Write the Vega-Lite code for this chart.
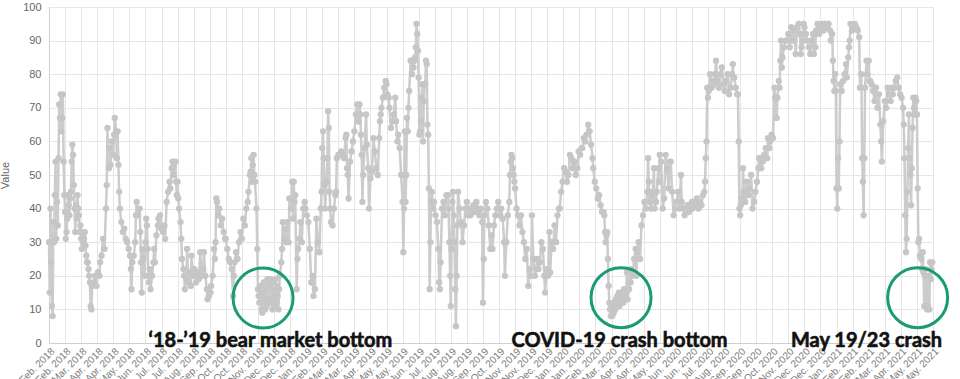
{
"$schema":"https://vega.github.io/schema/vega-lite/v6.json",
"width":884,"height":336,
"autosize":{"type":"none"},
"padding":{"left":49,"top":7,"right":27,"bottom":36},
"background":"white",
"config":{"view":{"stroke":null},"font":"Liberation Sans"},
"datasets":{
"fg":[
{"d":"2018-02-01","v":30},{"d":"2018-02-02","v":15},{"d":"2018-02-03","v":40},{"d":"2018-02-04","v":24},{"d":"2018-02-05","v":11},{"d":"2018-02-06","v":8},{"d":"2018-02-07","v":36},{"d":"2018-02-08","v":30},{"d":"2018-02-09","v":44},{"d":"2018-02-10","v":54},{"d":"2018-02-11","v":31},{"d":"2018-02-12","v":42},{"d":"2018-02-13","v":35},{"d":"2018-02-14","v":55},{"d":"2018-02-15","v":71},{"d":"2018-02-16","v":67},{"d":"2018-02-17","v":74},{"d":"2018-02-18","v":63},{"d":"2018-02-19","v":67},{"d":"2018-02-20","v":74},{"d":"2018-02-21","v":54},{"d":"2018-02-22","v":44},{"d":"2018-02-23","v":39},{"d":"2018-02-24","v":31},{"d":"2018-02-25","v":33},{"d":"2018-02-26","v":37},{"d":"2018-02-27","v":44},{"d":"2018-02-28","v":41},
{"d":"2018-03-01","v":38},{"d":"2018-03-02","v":43},{"d":"2018-03-03","v":45},{"d":"2018-03-04","v":54},{"d":"2018-03-05","v":59},{"d":"2018-03-06","v":56},{"d":"2018-03-07","v":47},{"d":"2018-03-08","v":40},{"d":"2018-03-09","v":33},{"d":"2018-03-10","v":41},{"d":"2018-03-11","v":37},{"d":"2018-03-12","v":44},{"d":"2018-03-13","v":40},{"d":"2018-03-14","v":38},{"d":"2018-03-15","v":33},{"d":"2018-03-16","v":35},{"d":"2018-03-17","v":31},{"d":"2018-03-18","v":28},{"d":"2018-03-19","v":33},{"d":"2018-03-20","v":30},{"d":"2018-03-21","v":31},{"d":"2018-03-22","v":33},{"d":"2018-03-23","v":29},{"d":"2018-03-24","v":26},{"d":"2018-03-25","v":24},{"d":"2018-03-26","v":24},{"d":"2018-03-27","v":22},{"d":"2018-03-28","v":20},{"d":"2018-03-29","v":18},{"d":"2018-03-30","v":11},{"d":"2018-03-31","v":10},
{"d":"2018-04-01","v":17},{"d":"2018-04-03","v":18},{"d":"2018-04-05","v":20},{"d":"2018-04-07","v":17},{"d":"2018-04-09","v":21},{"d":"2018-04-11","v":20},{"d":"2018-04-12","v":24},{"d":"2018-04-14","v":26},{"d":"2018-04-16","v":31},{"d":"2018-04-18","v":28},{"d":"2018-04-20","v":40},{"d":"2018-04-21","v":47},{"d":"2018-04-22","v":64},{"d":"2018-04-24","v":52},{"d":"2018-04-25","v":58},{"d":"2018-04-26","v":53},{"d":"2018-04-28","v":60},{"d":"2018-04-30","v":56},
{"d":"2018-05-01","v":62},{"d":"2018-05-02","v":67},{"d":"2018-05-04","v":63},{"d":"2018-05-05","v":55},{"d":"2018-05-06","v":63},{"d":"2018-05-07","v":53},{"d":"2018-05-08","v":45},{"d":"2018-05-09","v":40},{"d":"2018-05-11","v":36},{"d":"2018-05-13","v":33},{"d":"2018-05-15","v":34},{"d":"2018-05-17","v":31},{"d":"2018-05-19","v":30},{"d":"2018-05-21","v":28},{"d":"2018-05-23","v":26},{"d":"2018-05-24","v":22},{"d":"2018-05-25","v":16},{"d":"2018-05-26","v":24},{"d":"2018-05-28","v":26},{"d":"2018-05-30","v":30},{"d":"2018-05-31","v":38},
{"d":"2018-06-01","v":42},{"d":"2018-06-03","v":38},{"d":"2018-06-05","v":40},{"d":"2018-06-06","v":33},{"d":"2018-06-07","v":24},{"d":"2018-06-08","v":15},{"d":"2018-06-09","v":28},{"d":"2018-06-10","v":25},{"d":"2018-06-12","v":20},{"d":"2018-06-13","v":30},{"d":"2018-06-14","v":37},{"d":"2018-06-15","v":35},{"d":"2018-06-16","v":28},{"d":"2018-06-17","v":20},{"d":"2018-06-18","v":18},{"d":"2018-06-19","v":22},{"d":"2018-06-20","v":16},{"d":"2018-06-22","v":20},{"d":"2018-06-24","v":24},{"d":"2018-06-25","v":28},{"d":"2018-06-26","v":24},{"d":"2018-06-28","v":32},{"d":"2018-06-30","v":35},
{"d":"2018-07-01","v":37},{"d":"2018-07-03","v":38},{"d":"2018-07-05","v":34},{"d":"2018-07-07","v":33},{"d":"2018-07-09","v":35},{"d":"2018-07-10","v":31},{"d":"2018-07-12","v":42},{"d":"2018-07-14","v":45},{"d":"2018-07-16","v":48},{"d":"2018-07-17","v":46},{"d":"2018-07-19","v":52},{"d":"2018-07-20","v":54},{"d":"2018-07-21","v":50},{"d":"2018-07-22","v":53},{"d":"2018-07-24","v":54},{"d":"2018-07-25","v":48},{"d":"2018-07-26","v":44},{"d":"2018-07-27","v":48},{"d":"2018-07-28","v":43},{"d":"2018-07-29","v":40},{"d":"2018-07-31","v":36},
{"d":"2018-08-01","v":31},{"d":"2018-08-02","v":25},{"d":"2018-08-04","v":22},{"d":"2018-08-05","v":20},{"d":"2018-08-06","v":16},{"d":"2018-08-08","v":19},{"d":"2018-08-09","v":28},{"d":"2018-08-11","v":18},{"d":"2018-08-12","v":21},{"d":"2018-08-14","v":17},{"d":"2018-08-15","v":26},{"d":"2018-08-17","v":20},{"d":"2018-08-19","v":22},{"d":"2018-08-21","v":18},{"d":"2018-08-23","v":21},{"d":"2018-08-25","v":19},{"d":"2018-08-27","v":27},{"d":"2018-08-29","v":20},{"d":"2018-08-31","v":22},
{"d":"2018-09-01","v":27},{"d":"2018-09-03","v":20},{"d":"2018-09-05","v":16},{"d":"2018-09-06","v":13},{"d":"2018-09-08","v":14},{"d":"2018-09-10","v":15},{"d":"2018-09-11","v":17},{"d":"2018-09-13","v":20},{"d":"2018-09-15","v":28},{"d":"2018-09-16","v":25},{"d":"2018-09-17","v":30},{"d":"2018-09-18","v":43},{"d":"2018-09-19","v":42},{"d":"2018-09-21","v":38},{"d":"2018-09-22","v":40},{"d":"2018-09-24","v":35},{"d":"2018-09-26","v":37},{"d":"2018-09-28","v":33},{"d":"2018-09-30","v":31},
{"d":"2018-10-01","v":31},{"d":"2018-10-03","v":28},{"d":"2018-10-05","v":25},{"d":"2018-10-07","v":24},{"d":"2018-10-09","v":22},{"d":"2018-10-11","v":14},{"d":"2018-10-12","v":20},{"d":"2018-10-13","v":24},{"d":"2018-10-15","v":27},{"d":"2018-10-17","v":25},{"d":"2018-10-19","v":30},{"d":"2018-10-21","v":33},{"d":"2018-10-23","v":31},{"d":"2018-10-25","v":37},{"d":"2018-10-27","v":35},{"d":"2018-10-29","v":40},{"d":"2018-10-31","v":42},
{"d":"2018-11-01","v":45},{"d":"2018-11-03","v":50},{"d":"2018-11-04","v":51},{"d":"2018-11-05","v":55},{"d":"2018-11-06","v":48},{"d":"2018-11-07","v":53},{"d":"2018-11-08","v":56},{"d":"2018-11-09","v":50},{"d":"2018-11-10","v":48},{"d":"2018-11-12","v":40},{"d":"2018-11-13","v":28},{"d":"2018-11-14","v":16},{"d":"2018-11-15","v":14},{"d":"2018-11-16","v":12},{"d":"2018-11-17","v":17},{"d":"2018-11-18","v":15},{"d":"2018-11-19","v":10},{"d":"2018-11-20","v":9},{"d":"2018-11-21","v":14},{"d":"2018-11-22","v":18},{"d":"2018-11-23","v":12},{"d":"2018-11-24","v":10},{"d":"2018-11-25","v":16},{"d":"2018-11-26","v":11},{"d":"2018-11-27","v":19},{"d":"2018-11-28","v":13},{"d":"2018-11-29","v":17},{"d":"2018-11-30","v":12},
{"d":"2018-12-01","v":19},{"d":"2018-12-02","v":13},{"d":"2018-12-03","v":18},{"d":"2018-12-04","v":10},{"d":"2018-12-05","v":16},{"d":"2018-12-06","v":11},{"d":"2018-12-07","v":14},{"d":"2018-12-08","v":19},{"d":"2018-12-09","v":12},{"d":"2018-12-10","v":17},{"d":"2018-12-11","v":14},{"d":"2018-12-12","v":10},{"d":"2018-12-13","v":16},{"d":"2018-12-14","v":20},{"d":"2018-12-16","v":24},{"d":"2018-12-17","v":28},{"d":"2018-12-18","v":36},{"d":"2018-12-20","v":31},{"d":"2018-12-21","v":34},{"d":"2018-12-22","v":30},{"d":"2018-12-24","v":36},{"d":"2018-12-26","v":30},{"d":"2018-12-27","v":43},{"d":"2018-12-29","v":40},{"d":"2018-12-31","v":48},
{"d":"2019-01-01","v":37},{"d":"2019-01-02","v":48},{"d":"2019-01-03","v":42},{"d":"2019-01-04","v":44},{"d":"2019-01-06","v":16},{"d":"2019-01-07","v":25},{"d":"2019-01-08","v":28},{"d":"2019-01-10","v":31},{"d":"2019-01-11","v":36},{"d":"2019-01-13","v":30},{"d":"2019-01-15","v":40},{"d":"2019-01-17","v":42},{"d":"2019-01-18","v":40},{"d":"2019-01-20","v":38},{"d":"2019-01-22","v":36},{"d":"2019-01-24","v":28},{"d":"2019-01-26","v":18},{"d":"2019-01-28","v":20},{"d":"2019-01-29","v":14},{"d":"2019-01-31","v":16},
{"d":"2019-02-02","v":37},{"d":"2019-02-04","v":30},{"d":"2019-02-06","v":27},{"d":"2019-02-08","v":40},{"d":"2019-02-09","v":45},{"d":"2019-02-10","v":58},{"d":"2019-02-11","v":63},{"d":"2019-02-12","v":55},{"d":"2019-02-13","v":47},{"d":"2019-02-14","v":40},{"d":"2019-02-16","v":48},{"d":"2019-02-17","v":55},{"d":"2019-02-18","v":69},{"d":"2019-02-19","v":64},{"d":"2019-02-20","v":45},{"d":"2019-02-21","v":40},{"d":"2019-02-22","v":36},{"d":"2019-02-24","v":35},{"d":"2019-02-26","v":40},{"d":"2019-02-28","v":44},
{"d":"2019-03-01","v":45},{"d":"2019-03-02","v":55},{"d":"2019-03-04","v":56},{"d":"2019-03-06","v":56},{"d":"2019-03-08","v":57},{"d":"2019-03-10","v":56},{"d":"2019-03-12","v":55},{"d":"2019-03-14","v":61},{"d":"2019-03-15","v":62},{"d":"2019-03-16","v":52},{"d":"2019-03-17","v":50},{"d":"2019-03-18","v":43},{"d":"2019-03-20","v":54},{"d":"2019-03-22","v":57},{"d":"2019-03-24","v":60},{"d":"2019-03-26","v":63},{"d":"2019-03-28","v":68},{"d":"2019-03-30","v":71},{"d":"2019-03-31","v":66},
{"d":"2019-04-01","v":66},{"d":"2019-04-02","v":71},{"d":"2019-04-03","v":68},{"d":"2019-04-04","v":62},{"d":"2019-04-05","v":56},{"d":"2019-04-06","v":42},{"d":"2019-04-07","v":50},{"d":"2019-04-09","v":58},{"d":"2019-04-11","v":68},{"d":"2019-04-12","v":59},{"d":"2019-04-14","v":52},{"d":"2019-04-15","v":40},{"d":"2019-04-17","v":49},{"d":"2019-04-19","v":51},{"d":"2019-04-21","v":61},{"d":"2019-04-23","v":57},{"d":"2019-04-25","v":52},{"d":"2019-04-27","v":50},{"d":"2019-04-29","v":61},{"d":"2019-04-30","v":66},
{"d":"2019-05-01","v":68},{"d":"2019-05-02","v":70},{"d":"2019-05-04","v":73},{"d":"2019-05-06","v":76},{"d":"2019-05-08","v":78},{"d":"2019-05-09","v":77},{"d":"2019-05-10","v":74},{"d":"2019-05-12","v":73},{"d":"2019-05-13","v":70},{"d":"2019-05-15","v":64},{"d":"2019-05-17","v":66},{"d":"2019-05-19","v":68},{"d":"2019-05-21","v":73},{"d":"2019-05-22","v":66},{"d":"2019-05-24","v":60},{"d":"2019-05-25","v":62},{"d":"2019-05-27","v":58},{"d":"2019-05-29","v":50},{"d":"2019-05-31","v":42},
{"d":"2019-06-01","v":27},{"d":"2019-06-02","v":40},{"d":"2019-06-03","v":63},{"d":"2019-06-04","v":42},{"d":"2019-06-05","v":50},{"d":"2019-06-06","v":67},{"d":"2019-06-07","v":63},{"d":"2019-06-08","v":70},{"d":"2019-06-09","v":75},{"d":"2019-06-11","v":84},{"d":"2019-06-13","v":80},{"d":"2019-06-14","v":84},{"d":"2019-06-15","v":82},{"d":"2019-06-16","v":84},{"d":"2019-06-17","v":85},{"d":"2019-06-18","v":88},{"d":"2019-06-19","v":95},{"d":"2019-06-20","v":92},{"d":"2019-06-21","v":87},{"d":"2019-06-22","v":79},{"d":"2019-06-23","v":62},{"d":"2019-06-24","v":63},{"d":"2019-06-25","v":66},{"d":"2019-06-26","v":73},{"d":"2019-06-27","v":77},{"d":"2019-06-28","v":60},{"d":"2019-06-29","v":72},{"d":"2019-06-30","v":77},
{"d":"2019-07-01","v":77},{"d":"2019-07-02","v":84},{"d":"2019-07-03","v":83},{"d":"2019-07-04","v":65},{"d":"2019-07-05","v":62},{"d":"2019-07-06","v":46},{"d":"2019-07-07","v":16},{"d":"2019-07-08","v":30},{"d":"2019-07-09","v":42},{"d":"2019-07-10","v":45},{"d":"2019-07-12","v":40},{"d":"2019-07-13","v":42},{"d":"2019-07-15","v":38},{"d":"2019-07-17","v":36},{"d":"2019-07-19","v":28},{"d":"2019-07-20","v":18},{"d":"2019-07-21","v":16},{"d":"2019-07-22","v":24},{"d":"2019-07-24","v":40},{"d":"2019-07-26","v":42},{"d":"2019-07-28","v":38},{"d":"2019-07-30","v":44},
{"d":"2019-08-01","v":44},{"d":"2019-08-02","v":40},{"d":"2019-08-03","v":30},{"d":"2019-08-04","v":20},{"d":"2019-08-05","v":11},{"d":"2019-08-06","v":28},{"d":"2019-08-07","v":42},{"d":"2019-08-08","v":45},{"d":"2019-08-09","v":38},{"d":"2019-08-10","v":30},{"d":"2019-08-11","v":16},{"d":"2019-08-12","v":5},{"d":"2019-08-13","v":20},{"d":"2019-08-14","v":35},{"d":"2019-08-15","v":45},{"d":"2019-08-17","v":40},{"d":"2019-08-19","v":36},{"d":"2019-08-21","v":30},{"d":"2019-08-23","v":35},{"d":"2019-08-25","v":40},{"d":"2019-08-27","v":42},{"d":"2019-08-29","v":38},{"d":"2019-08-31","v":40},
{"d":"2019-09-01","v":38},{"d":"2019-09-03","v":40},{"d":"2019-09-05","v":41},{"d":"2019-09-07","v":39},{"d":"2019-09-09","v":42},{"d":"2019-09-11","v":40},{"d":"2019-09-13","v":38},{"d":"2019-09-15","v":40},{"d":"2019-09-17","v":36},{"d":"2019-09-18","v":12},{"d":"2019-09-19","v":25},{"d":"2019-09-20","v":38},{"d":"2019-09-22","v":42},{"d":"2019-09-24","v":40},{"d":"2019-09-26","v":35},{"d":"2019-09-28","v":28},{"d":"2019-09-30","v":32},
{"d":"2019-10-01","v":28},{"d":"2019-10-03","v":35},{"d":"2019-10-05","v":38},{"d":"2019-10-07","v":40},{"d":"2019-10-09","v":42},{"d":"2019-10-11","v":38},{"d":"2019-10-13","v":40},{"d":"2019-10-15","v":37},{"d":"2019-10-17","v":30},{"d":"2019-10-18","v":20},{"d":"2019-10-20","v":30},{"d":"2019-10-22","v":38},{"d":"2019-10-24","v":42},{"d":"2019-10-25","v":50},{"d":"2019-10-26","v":54},{"d":"2019-10-27","v":56},{"d":"2019-10-28","v":55},{"d":"2019-10-29","v":52},{"d":"2019-10-30","v":50},{"d":"2019-10-31","v":48},
{"d":"2019-11-01","v":46},{"d":"2019-11-03","v":40},{"d":"2019-11-05","v":38},{"d":"2019-11-07","v":35},{"d":"2019-11-09","v":38},{"d":"2019-11-11","v":33},{"d":"2019-11-13","v":30},{"d":"2019-11-15","v":25},{"d":"2019-11-17","v":28},{"d":"2019-11-19","v":17},{"d":"2019-11-21","v":22},{"d":"2019-11-23","v":20},{"d":"2019-11-24","v":38},{"d":"2019-11-26","v":25},{"d":"2019-11-28","v":20},{"d":"2019-11-30","v":22},
{"d":"2019-12-01","v":25},{"d":"2019-12-03","v":22},{"d":"2019-12-05","v":24},{"d":"2019-12-07","v":30},{"d":"2019-12-09","v":28},{"d":"2019-12-11","v":20},{"d":"2019-12-12","v":15},{"d":"2019-12-14","v":22},{"d":"2019-12-16","v":20},{"d":"2019-12-18","v":33},{"d":"2019-12-19","v":21},{"d":"2019-12-21","v":30},{"d":"2019-12-23","v":28},{"d":"2019-12-25","v":35},{"d":"2019-12-27","v":30},{"d":"2019-12-29","v":38},{"d":"2019-12-31","v":40},
{"d":"2020-01-01","v":40},{"d":"2020-01-03","v":45},{"d":"2020-01-05","v":48},{"d":"2020-01-07","v":52},{"d":"2020-01-09","v":51},{"d":"2020-01-11","v":48},{"d":"2020-01-13","v":50},{"d":"2020-01-15","v":56},{"d":"2020-01-17","v":55},{"d":"2020-01-19","v":52},{"d":"2020-01-21","v":54},{"d":"2020-01-23","v":50},{"d":"2020-01-25","v":52},{"d":"2020-01-27","v":57},{"d":"2020-01-29","v":56},{"d":"2020-01-31","v":58},
{"d":"2020-02-01","v":58},{"d":"2020-02-03","v":61},{"d":"2020-02-05","v":60},{"d":"2020-02-07","v":62},{"d":"2020-02-09","v":65},{"d":"2020-02-11","v":63},{"d":"2020-02-13","v":59},{"d":"2020-02-15","v":55},{"d":"2020-02-16","v":52},{"d":"2020-02-18","v":48},{"d":"2020-02-20","v":46},{"d":"2020-02-22","v":43},{"d":"2020-02-24","v":44},{"d":"2020-02-26","v":41},{"d":"2020-02-28","v":39},
{"d":"2020-03-01","v":39},{"d":"2020-03-02","v":38},{"d":"2020-03-03","v":33},{"d":"2020-03-04","v":30},{"d":"2020-03-05","v":32},{"d":"2020-03-06","v":33},{"d":"2020-03-07","v":25},{"d":"2020-03-08","v":17},{"d":"2020-03-09","v":12},{"d":"2020-03-10","v":10},{"d":"2020-03-11","v":8},{"d":"2020-03-12","v":10},{"d":"2020-03-13","v":8},{"d":"2020-03-14","v":11},{"d":"2020-03-15","v":9},{"d":"2020-03-16","v":12},{"d":"2020-03-17","v":10},{"d":"2020-03-18","v":13},{"d":"2020-03-19","v":11},{"d":"2020-03-20","v":14},{"d":"2020-03-21","v":12},{"d":"2020-03-22","v":15},{"d":"2020-03-23","v":11},{"d":"2020-03-24","v":13},{"d":"2020-03-25","v":15},{"d":"2020-03-26","v":12},{"d":"2020-03-27","v":14},{"d":"2020-03-28","v":12},{"d":"2020-03-29","v":16},{"d":"2020-03-30","v":14},{"d":"2020-03-31","v":13},
{"d":"2020-04-01","v":15},{"d":"2020-04-02","v":21},{"d":"2020-04-03","v":13},{"d":"2020-04-05","v":16},{"d":"2020-04-06","v":21},{"d":"2020-04-07","v":18},{"d":"2020-04-08","v":22},{"d":"2020-04-10","v":20},{"d":"2020-04-12","v":25},{"d":"2020-04-14","v":28},{"d":"2020-04-15","v":20},{"d":"2020-04-16","v":27},{"d":"2020-04-18","v":30},{"d":"2020-04-20","v":25},{"d":"2020-04-22","v":35},{"d":"2020-04-24","v":38},{"d":"2020-04-26","v":42},{"d":"2020-04-28","v":40},{"d":"2020-04-30","v":45},
{"d":"2020-05-01","v":55},{"d":"2020-05-02","v":48},{"d":"2020-05-03","v":42},{"d":"2020-05-04","v":45},{"d":"2020-05-05","v":40},{"d":"2020-05-07","v":44},{"d":"2020-05-09","v":52},{"d":"2020-05-10","v":40},{"d":"2020-05-12","v":42},{"d":"2020-05-13","v":45},{"d":"2020-05-15","v":52},{"d":"2020-05-16","v":48},{"d":"2020-05-17","v":56},{"d":"2020-05-19","v":54},{"d":"2020-05-21","v":40},{"d":"2020-05-23","v":43},{"d":"2020-05-25","v":56},{"d":"2020-05-27","v":52},{"d":"2020-05-29","v":46},{"d":"2020-05-31","v":54},
{"d":"2020-06-01","v":54},{"d":"2020-06-03","v":45},{"d":"2020-06-05","v":38},{"d":"2020-06-07","v":40},{"d":"2020-06-09","v":42},{"d":"2020-06-11","v":45},{"d":"2020-06-13","v":40},{"d":"2020-06-15","v":50},{"d":"2020-06-16","v":42},{"d":"2020-06-18","v":40},{"d":"2020-06-20","v":38},{"d":"2020-06-22","v":40},{"d":"2020-06-24","v":41},{"d":"2020-06-26","v":39},{"d":"2020-06-28","v":40},{"d":"2020-06-30","v":42},
{"d":"2020-07-01","v":40},{"d":"2020-07-03","v":42},{"d":"2020-07-05","v":41},{"d":"2020-07-07","v":43},{"d":"2020-07-09","v":40},{"d":"2020-07-11","v":42},{"d":"2020-07-13","v":41},{"d":"2020-07-15","v":44},{"d":"2020-07-17","v":45},{"d":"2020-07-18","v":48},{"d":"2020-07-19","v":55},{"d":"2020-07-20","v":60},{"d":"2020-07-21","v":76},{"d":"2020-07-22","v":73},{"d":"2020-07-23","v":75},{"d":"2020-07-25","v":80},{"d":"2020-07-27","v":76},{"d":"2020-07-29","v":78},{"d":"2020-07-31","v":77},
{"d":"2020-08-01","v":80},{"d":"2020-08-02","v":84},{"d":"2020-08-04","v":78},{"d":"2020-08-06","v":76},{"d":"2020-08-08","v":80},{"d":"2020-08-10","v":82},{"d":"2020-08-12","v":77},{"d":"2020-08-14","v":75},{"d":"2020-08-16","v":78},{"d":"2020-08-18","v":80},{"d":"2020-08-20","v":74},{"d":"2020-08-22","v":76},{"d":"2020-08-24","v":80},{"d":"2020-08-25","v":83},{"d":"2020-08-26","v":79},{"d":"2020-08-27","v":79},{"d":"2020-08-29","v":76},{"d":"2020-08-31","v":74},
{"d":"2020-09-01","v":74},{"d":"2020-09-02","v":60},{"d":"2020-09-03","v":40},{"d":"2020-09-04","v":38},{"d":"2020-09-05","v":41},{"d":"2020-09-07","v":43},{"d":"2020-09-08","v":52},{"d":"2020-09-09","v":45},{"d":"2020-09-11","v":42},{"d":"2020-09-13","v":48},{"d":"2020-09-15","v":44},{"d":"2020-09-17","v":46},{"d":"2020-09-19","v":50},{"d":"2020-09-21","v":40},{"d":"2020-09-23","v":42},{"d":"2020-09-25","v":45},{"d":"2020-09-27","v":48},{"d":"2020-09-29","v":52},{"d":"2020-09-30","v":55},
{"d":"2020-10-01","v":55},{"d":"2020-10-03","v":52},{"d":"2020-10-05","v":54},{"d":"2020-10-07","v":56},{"d":"2020-10-09","v":58},{"d":"2020-10-11","v":55},{"d":"2020-10-12","v":61},{"d":"2020-10-14","v":58},{"d":"2020-10-15","v":60},{"d":"2020-10-17","v":62},{"d":"2020-10-19","v":61},{"d":"2020-10-21","v":76},{"d":"2020-10-22","v":73},{"d":"2020-10-24","v":67},{"d":"2020-10-25","v":73},{"d":"2020-10-27","v":78},{"d":"2020-10-28","v":76},{"d":"2020-10-29","v":84},{"d":"2020-10-30","v":90},{"d":"2020-10-31","v":82},
{"d":"2020-11-01","v":85},{"d":"2020-11-03","v":88},{"d":"2020-11-05","v":90},{"d":"2020-11-07","v":90},{"d":"2020-11-09","v":92},{"d":"2020-11-11","v":88},{"d":"2020-11-13","v":94},{"d":"2020-11-15","v":90},{"d":"2020-11-17","v":93},{"d":"2020-11-19","v":86},{"d":"2020-11-21","v":94},{"d":"2020-11-23","v":95},{"d":"2020-11-25","v":92},{"d":"2020-11-26","v":86},{"d":"2020-11-27","v":88},{"d":"2020-11-29","v":90},{"d":"2020-11-30","v":95},
{"d":"2020-12-01","v":94},{"d":"2020-12-03","v":92},{"d":"2020-12-05","v":90},{"d":"2020-12-07","v":88},{"d":"2020-12-09","v":86},{"d":"2020-12-11","v":90},{"d":"2020-12-13","v":92},{"d":"2020-12-14","v":86},{"d":"2020-12-16","v":88},{"d":"2020-12-17","v":93},{"d":"2020-12-19","v":95},{"d":"2020-12-21","v":92},{"d":"2020-12-23","v":94},{"d":"2020-12-25","v":95},{"d":"2020-12-27","v":93},{"d":"2020-12-29","v":95},{"d":"2020-12-31","v":94},
{"d":"2021-01-01","v":94},{"d":"2021-01-03","v":95},{"d":"2021-01-05","v":93},{"d":"2021-01-06","v":90},{"d":"2021-01-08","v":92},{"d":"2021-01-09","v":84},{"d":"2021-01-10","v":78},{"d":"2021-01-11","v":75},{"d":"2021-01-12","v":80},{"d":"2021-01-13","v":75},{"d":"2021-01-14","v":46},{"d":"2021-01-15","v":40},{"d":"2021-01-16","v":55},{"d":"2021-01-17","v":46},{"d":"2021-01-18","v":60},{"d":"2021-01-19","v":77},{"d":"2021-01-21","v":75},{"d":"2021-01-23","v":78},{"d":"2021-01-25","v":80},{"d":"2021-01-27","v":83},{"d":"2021-01-28","v":79},{"d":"2021-01-30","v":85},{"d":"2021-01-31","v":88},
{"d":"2021-02-01","v":90},{"d":"2021-02-02","v":95},{"d":"2021-02-04","v":93},{"d":"2021-02-06","v":94},{"d":"2021-02-08","v":95},{"d":"2021-02-10","v":94},{"d":"2021-02-12","v":93},{"d":"2021-02-14","v":91},{"d":"2021-02-15","v":76},{"d":"2021-02-17","v":80},{"d":"2021-02-18","v":55},{"d":"2021-02-19","v":48},{"d":"2021-02-20","v":38},{"d":"2021-02-21","v":55},{"d":"2021-02-22","v":76},{"d":"2021-02-24","v":84},{"d":"2021-02-25","v":80},{"d":"2021-02-27","v":84},{"d":"2021-02-28","v":78},
{"d":"2021-03-01","v":78},{"d":"2021-03-03","v":77},{"d":"2021-03-05","v":75},{"d":"2021-03-07","v":72},{"d":"2021-03-09","v":76},{"d":"2021-03-11","v":70},{"d":"2021-03-13","v":74},{"d":"2021-03-15","v":65},{"d":"2021-03-16","v":60},{"d":"2021-03-17","v":54},{"d":"2021-03-19","v":66},{"d":"2021-03-21","v":72},{"d":"2021-03-23","v":70},{"d":"2021-03-25","v":76},{"d":"2021-03-27","v":74},{"d":"2021-03-29","v":72},{"d":"2021-03-31","v":76},
{"d":"2021-04-01","v":74},{"d":"2021-04-03","v":76},{"d":"2021-04-05","v":78},{"d":"2021-04-07","v":79},{"d":"2021-04-09","v":76},{"d":"2021-04-11","v":74},{"d":"2021-04-13","v":73},{"d":"2021-04-15","v":70},{"d":"2021-04-16","v":65},{"d":"2021-04-17","v":55},{"d":"2021-04-18","v":38},{"d":"2021-04-19","v":27},{"d":"2021-04-20","v":31},{"d":"2021-04-21","v":45},{"d":"2021-04-22","v":58},{"d":"2021-04-23","v":68},{"d":"2021-04-24","v":55},{"d":"2021-04-25","v":50},{"d":"2021-04-26","v":41},{"d":"2021-04-27","v":52},{"d":"2021-04-28","v":64},{"d":"2021-04-29","v":73},{"d":"2021-04-30","v":70},
{"d":"2021-05-01","v":68},{"d":"2021-05-02","v":73},{"d":"2021-05-03","v":72},{"d":"2021-05-04","v":68},{"d":"2021-05-05","v":46},{"d":"2021-05-06","v":30},{"d":"2021-05-07","v":31},{"d":"2021-05-08","v":26},{"d":"2021-05-10","v":25},{"d":"2021-05-11","v":22},{"d":"2021-05-12","v":27},{"d":"2021-05-13","v":21},{"d":"2021-05-14","v":11},{"d":"2021-05-15","v":20},{"d":"2021-05-16","v":22},{"d":"2021-05-17","v":11},{"d":"2021-05-18","v":10},{"d":"2021-05-19","v":11},{"d":"2021-05-20","v":20},{"d":"2021-05-21","v":10},{"d":"2021-05-22","v":24},{"d":"2021-05-23","v":19},{"d":"2021-05-24","v":22},{"d":"2021-05-25","v":24}
],
"circ":[{"d":"2018-11-21","v":13.4},{"d":"2020-03-25","v":13.5},{"d":"2021-05-05","v":13.5}],
"lab":[{"d":"2018-12-01","v":-1.2,"t":"‘18-’19 bear market bottom"},{"d":"2020-03-23","v":-1.2,"t":"COVID-19 crash bottom"},{"d":"2021-02-24","v":-1.2,"t":"May 19/23 crash"}]
},
"encoding":{
"x":{"field":"d","type":"temporal","scale":{"type":"utc","domain":[1517443200000,1621987200000]},
"axis":{"title":null,"values":[
{"year":2018,"month":2,"date":1,"utc":true},{"year":2018,"month":2,"date":23,"utc":true},{"year":2018,"month":3,"date":17,"utc":true},{"year":2018,"month":4,"date":8,"utc":true},{"year":2018,"month":4,"date":30,"utc":true},{"year":2018,"month":5,"date":22,"utc":true},{"year":2018,"month":6,"date":13,"utc":true},{"year":2018,"month":7,"date":5,"utc":true},{"year":2018,"month":7,"date":27,"utc":true},{"year":2018,"month":8,"date":18,"utc":true},{"year":2018,"month":9,"date":9,"utc":true},{"year":2018,"month":10,"date":1,"utc":true},{"year":2018,"month":10,"date":23,"utc":true},{"year":2018,"month":11,"date":14,"utc":true},{"year":2018,"month":12,"date":6,"utc":true},{"year":2018,"month":12,"date":28,"utc":true},
{"year":2019,"month":1,"date":19,"utc":true},{"year":2019,"month":2,"date":10,"utc":true},{"year":2019,"month":3,"date":4,"utc":true},{"year":2019,"month":3,"date":26,"utc":true},{"year":2019,"month":4,"date":17,"utc":true},{"year":2019,"month":5,"date":9,"utc":true},{"year":2019,"month":5,"date":31,"utc":true},{"year":2019,"month":6,"date":22,"utc":true},{"year":2019,"month":7,"date":14,"utc":true},{"year":2019,"month":8,"date":5,"utc":true},{"year":2019,"month":8,"date":27,"utc":true},{"year":2019,"month":9,"date":18,"utc":true},{"year":2019,"month":10,"date":10,"utc":true},{"year":2019,"month":11,"date":1,"utc":true},{"year":2019,"month":11,"date":23,"utc":true},{"year":2019,"month":12,"date":15,"utc":true},
{"year":2020,"month":1,"date":6,"utc":true},{"year":2020,"month":1,"date":28,"utc":true},{"year":2020,"month":2,"date":19,"utc":true},{"year":2020,"month":3,"date":12,"utc":true},{"year":2020,"month":4,"date":3,"utc":true},{"year":2020,"month":4,"date":25,"utc":true},{"year":2020,"month":5,"date":17,"utc":true},{"year":2020,"month":6,"date":8,"utc":true},{"year":2020,"month":6,"date":30,"utc":true},{"year":2020,"month":7,"date":22,"utc":true},{"year":2020,"month":8,"date":13,"utc":true},{"year":2020,"month":9,"date":4,"utc":true},{"year":2020,"month":9,"date":26,"utc":true},{"year":2020,"month":10,"date":18,"utc":true},{"year":2020,"month":11,"date":9,"utc":true},{"year":2020,"month":12,"date":1,"utc":true},{"year":2020,"month":12,"date":23,"utc":true},
{"year":2021,"month":1,"date":14,"utc":true},{"year":2021,"month":2,"date":5,"utc":true},{"year":2021,"month":2,"date":27,"utc":true},{"year":2021,"month":3,"date":21,"utc":true},{"year":2021,"month":4,"date":12,"utc":true},{"year":2021,"month":5,"date":4,"utc":true},{"year":2021,"month":5,"date":26,"utc":true}],
"format":"%b. %Y","labelAngle":-45,"labelFontSize":10,"labelColor":"#7a7a7a","labelPadding":3,"ticks":false,"grid":true,"gridColor":"#e6e6e6","domainColor":"#cfcfcf","labelOverlap":false,"labelFlush":false}},
"y":{"field":"v","type":"quantitative","scale":{"domain":[0,100],"nice":false},
"axis":{"values":[0,10,20,30,40,50,60,70,80,90,100],"title":"Value","titleColor":"#666666","titleFontSize":11,"titleFontWeight":"normal","titlePadding":12,"labelColor":"#666666","labelFontSize":11,"labelPadding":8,"ticks":false,"gridColor":"#e6e6e6","domainColor":"#cfcfcf"}}
},
"layer":[
{"data":{"name":"fg"},
"mark":{"type":"line","color":"#cccccc","strokeWidth":2.5,"point":{"filled":true,"size":40,"color":"#c6c6c6"}}},
{"data":{"name":"circ"},
"mark":{"type":"point","shape":"circle","filled":false,"size":3600,"stroke":"#1a9a76","strokeWidth":3,"opacity":1}},
{"data":{"name":"lab"},
"mark":{"type":"text","font":"Lato","fontWeight":"bold","fontSize":20,"color":"#111111","stroke":"#111111","strokeWidth":0.6,"align":"center","baseline":"alphabetic"},
"encoding":{"text":{"field":"t"}}}
]
}
